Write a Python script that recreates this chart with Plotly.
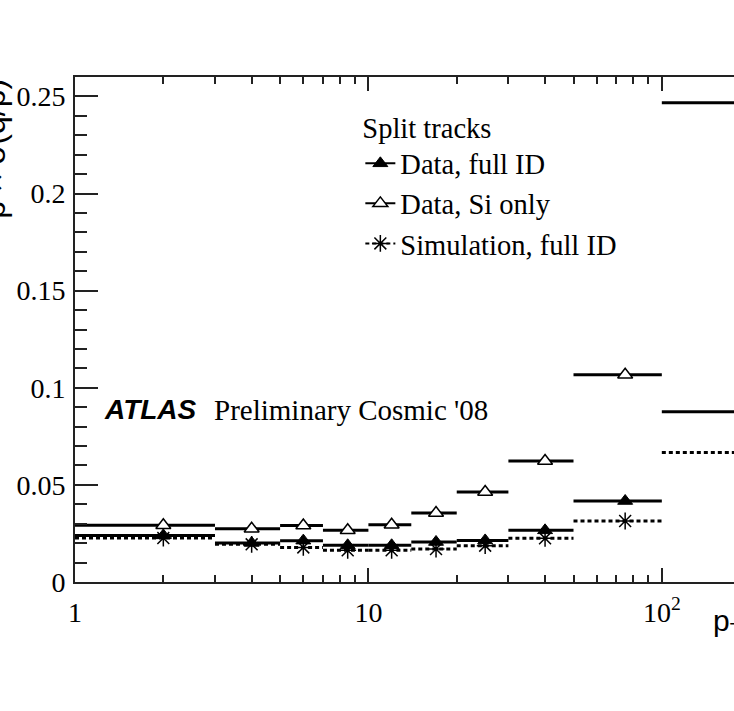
import plotly.graph_objects as go

# p_T bins [GeV]
bin_lo = [1, 3, 5, 7, 10, 14, 20, 30, 50, 100]
bin_hi = [3, 5, 7, 10, 14, 20, 30, 50, 100, 1000]
bin_center = [2, 4, 6, 8.5, 12, 17, 25, 40, 75, 550]

# p x sigma(q/p) per bin
data_full_id = [0.0240, 0.0201, 0.0213, 0.0189, 0.0189, 0.0206, 0.0214, 0.0266, 0.0417, 0.0877]
data_si_only = [0.0292, 0.0274, 0.0291, 0.0266, 0.0295, 0.0355, 0.0463, 0.0623, 0.1067, 0.2468]
sim_full_id = [0.0226, 0.0194, 0.0178, 0.0163, 0.0163, 0.0170, 0.0187, 0.0225, 0.0314, 0.0667]

x_tickvals = [1, 10, 100]
x_ticktext = ["1", "10", "10<sup>2</sup>"]
y_tickvals = [0, 0.05, 0.1, 0.15, 0.2, 0.25]
y_ticktext = ["0", "0.05", "0.1", "0.15", "0.2", "0.25"]

SERIF = "Liberation Serif"
SANS = "Liberation Sans"

series = [
    ("Data, full ID", data_full_id, "solid",
     dict(symbol="triangle-up", size=13, color="black", line=dict(color="black", width=1))),
    ("Data, Si only", data_si_only, "solid",
     dict(symbol="triangle-up", size=13, color="white", line=dict(color="black", width=1.5))),
    ("Simulation, full ID", sim_full_id, "4px,3px",
     dict(symbol="asterisk-open", size=14, color="black", line=dict(color="black", width=1.5))),
]

fig = go.Figure()

# horizontal bin-width bars
for name, vals, dash, mk in series:
    xs, ys = [], []
    for lo, hi, v in zip(bin_lo, bin_hi, vals):
        xs += [lo, hi, None]
        ys += [v, v, None]
    fig.add_trace(go.Scatter(
        x=xs, y=ys, mode="lines", showlegend=False, legendgroup=name,
        line=dict(color="black", width=3, dash=dash), hoverinfo="skip",
    ))

# markers at bin centres (separated so no connecting line is drawn)
for name, vals, dash, mk in series:
    xs, ys = [], []
    for c, v in zip(bin_center, vals):
        xs += [c, None]
        ys += [v, None]
    fig.add_trace(go.Scatter(
        x=xs, y=ys, mode="lines+markers", name=name, legendgroup=name,
        line=dict(color="black", width=2, dash=dash), marker=mk,
    ))

fig.update_layout(
    width=734, height=711,
    margin=dict(l=75, r=0, t=77, b=129),
    plot_bgcolor="white", paper_bgcolor="white",
    font=dict(family=SERIF, size=28, color="black"),
    showlegend=True,
    legend=dict(
        title=dict(text="Split tracks", font=dict(family=SERIF, size=28.5)),
        font=dict(family=SERIF, size=28.5),
        x=0.433, y=0.952, xanchor="left", yanchor="top",
        bgcolor="rgba(0,0,0,0)", borderwidth=0, itemwidth=30,
        tracegroupgap=0,
    ),
)

fig.update_xaxes(
    type="log", range=[0, 2.246],
    showgrid=False, zeroline=False,
    showline=True, linecolor="#222", linewidth=2, mirror="ticks",
    ticks="inside", ticklen=14, tickwidth=1.5, tickcolor="#222",
    tickvals=x_tickvals, ticktext=x_ticktext,
    tickfont=dict(family=SERIF, size=28),
    ticklabelstandoff=4,
    minor=dict(ticks="inside", ticklen=7, tickwidth=1.5, tickcolor="#222", dtick="D1", showgrid=False),
)

fig.update_yaxes(
    range=[0, 0.26],
    showgrid=False, zeroline=False,
    showline=True, linecolor="#222", linewidth=2, mirror=False,
    ticks="inside", ticklen=23, tickwidth=1.5, tickcolor="#222",
    tickvals=y_tickvals, ticktext=y_ticktext,
    tickfont=dict(family=SERIF, size=28),
    ticklabelstandoff=2,
    minor=dict(ticks="inside", ticklen=12, tickwidth=1.5, tickcolor="#222", dtick=0.01, showgrid=False),
)

# axis titles
fig.add_annotation(
    text="p × σ(q/p)", textangle=-90,
    xref="paper", yref="paper", x=-0.093, y=1.0,
    xanchor="right", yanchor="top", showarrow=False,
    font=dict(family=SANS, size=32, color="black"),
)
fig.add_annotation(
    text="p<sub>T</sub> [GeV]",
    xref="paper", yref="paper", x=0.965, y=-0.04,
    xanchor="left", yanchor="top", showarrow=False,
    font=dict(family=SANS, size=30, color="black"),
)

# experiment label
fig.add_annotation(
    text="<b><i>ATLAS</i></b>",
    xref="paper", yref="paper", x=0.041, y=0.341,
    xanchor="left", yanchor="middle", showarrow=False,
    font=dict(family=SANS, size=28, color="black"),
)
fig.add_annotation(
    text="Preliminary Cosmic '08",
    xref="paper", yref="paper", x=0.208, y=0.341,
    xanchor="left", yanchor="middle", showarrow=False,
    font=dict(family=SERIF, size=29, color="black"),
)

fig.write_html("out.html")
